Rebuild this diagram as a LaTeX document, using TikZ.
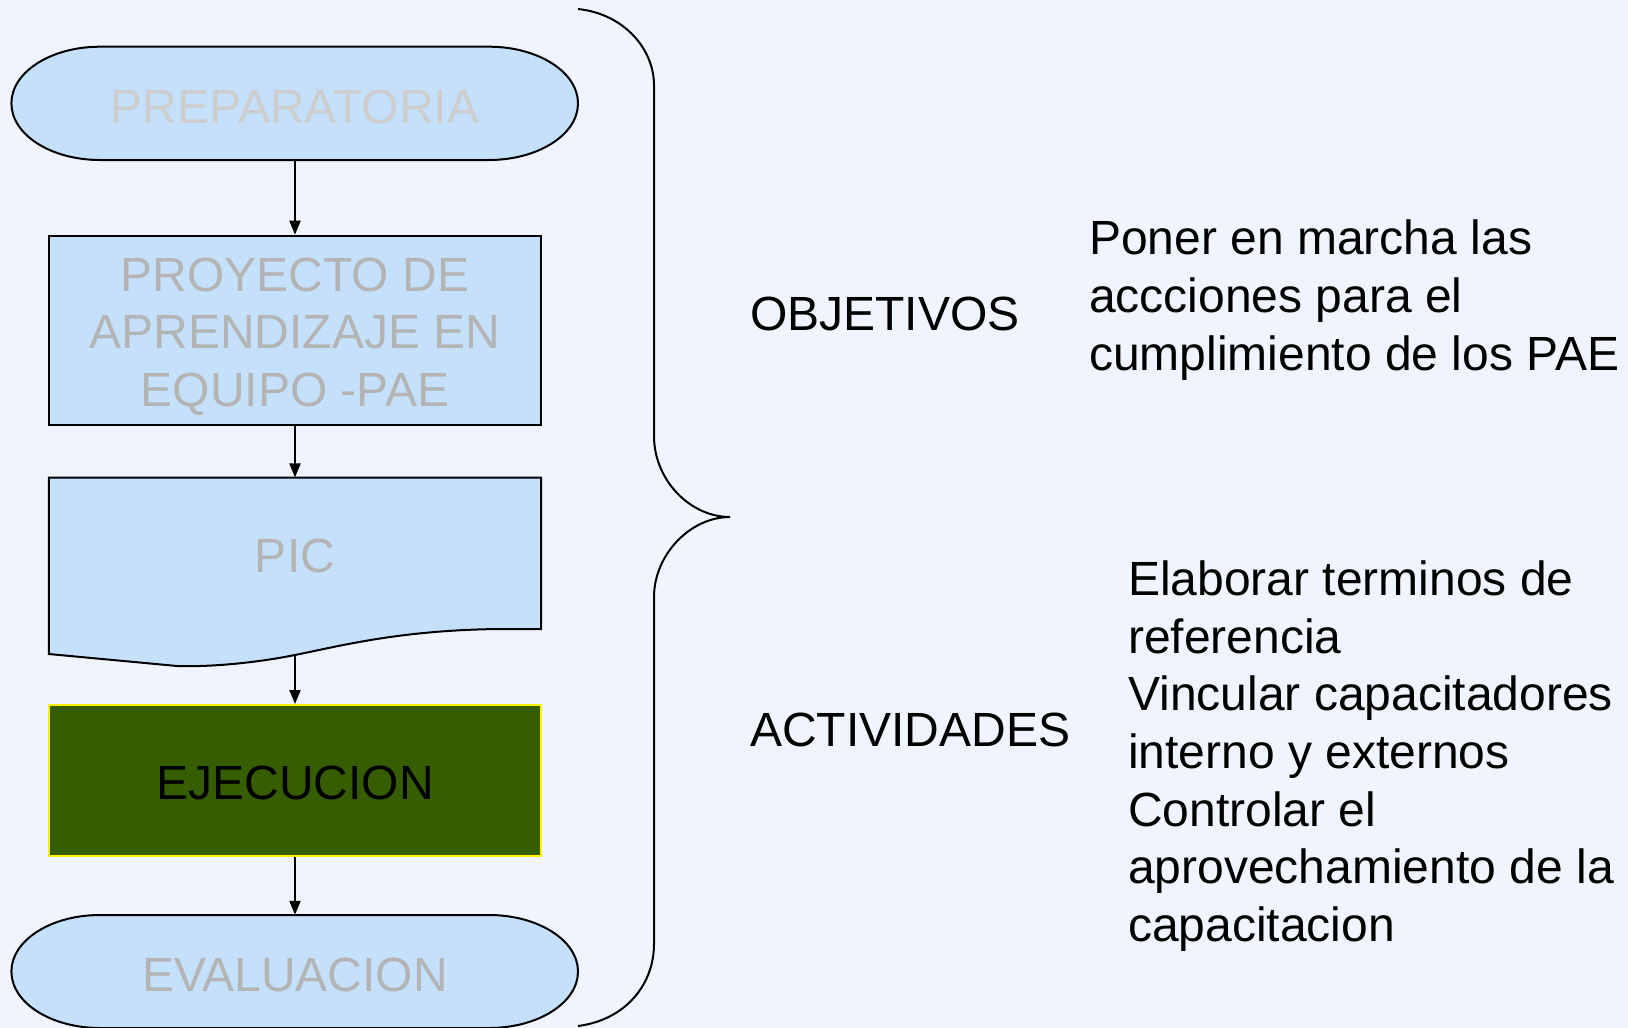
\documentclass[tikz,border=0pt]{standalone}
\usepackage{fontspec}
\setmainfont{Liberation Sans}
\usetikzlibrary{arrows.meta}
\definecolor{bgcol}{RGB}{239,244,254}
\definecolor{boxblue}{RGB}{197,224,251}
\definecolor{darkgreen}{RGB}{54,94,0}
\definecolor{paletxt}{RGB}{205,205,205}
\definecolor{greytxt}{RGB}{180,180,180}
\begin{document}
\begin{tikzpicture}[x=1pt,y=-1pt,
  big/.style={font=\fontsize{48}{57.6}\selectfont, inner sep=0pt},
  outline/.style={draw=black, line width=2pt},
  termnode/.style={big, minimum width=566.6pt, minimum height=113.3pt, text=paletxt},
  procbox/.style={outline, fill=boxblue, minimum width=492.2pt, inner sep=0pt},
  arr/.style={line width=2pt, -{Triangle[length=14pt,width=11pt]}},
  lbl/.style={big, text=black, anchor=west}]
\useasboundingbox (0,0) rectangle (1628,1028);
\fill[bgcol] (0,0) rectangle (1628,1028);

% terminal shapes
\filldraw[outline, fill=boxblue] (100,46.7) -- (489,46.7) .. controls (538,46.7) and (578,72) .. (578,103.35) .. controls (578,134.7) and (538,160) .. (489,160) -- (100,160) .. controls (51,160) and (11.4,134.7) .. (11.4,103.35) .. controls (11.4,72) and (51,46.7) .. (100,46.7) -- cycle;
\filldraw[outline, fill=boxblue] (100,915) -- (489,915) .. controls (538,915) and (578,940.3) .. (578,971.5) .. controls (578,1002.8) and (538,1028) .. (489,1028) -- (100,1028) .. controls (51,1028) and (11.4,1002.8) .. (11.4,971.5) .. controls (11.4,940.3) and (51,915) .. (100,915) -- cycle;

% document shape (PIC)
\filldraw[outline, fill=boxblue] (48.8,477.6) -- (541,477.6) -- (541,629) -- (500,629) .. controls (400,630) and (340,646) .. (295,655) .. controls (250,664) and (205,667) .. (177,666) -- (48.8,654) -- cycle;

% nodes
\node[termnode] (prep) at (295,103.35) {};
\node[big, text=paletxt] (preplbl) at (295,106.5) {PREPARATORIA};
\node[procbox, minimum height=189pt] (proy) at (295,330.2) {};
\node[big, align=center, text=greytxt] (proylbl) at (295,336.5) {PROYECTO DE\\APRENDIZAJE EN\\EQUIPO -PAE};
\node[big, minimum width=492.2pt, minimum height=155.8pt, text=greytxt] (pic) at (295,555.5) {PIC};
\coordinate (picbot) at (295,655);
\node[draw=yellow, line width=2pt, fill=darkgreen, minimum width=492.2pt, minimum height=150.6pt, inner sep=0pt] (ejec) at (295,780.3) {};
\node[big, text=black] (ejeclbl) at (295,782.5) {EJECUCION};
\node[termnode, minimum height=113pt] (eval) at (295,971.5) {};
\node[big, text=greytxt] (evallbl) at (295,974.5) {EVALUACION};

% connectors
\draw[arr] (prep.south) -- (proy.north);
\draw[arr] (proy.south) -- (pic.north);
\draw[arr] (picbot) -- (ejec.north);
\draw[arr] (ejec.south) -- (eval.north);

% brace
\draw[line width=2pt] (578,9) .. controls (625,14) and (654,50) .. (654,85) -- (654,436) .. controls (654,480) and (690,517) .. (730,517) .. controls (690,517) and (654,555) .. (654,597) -- (654,944) .. controls (654,985) and (625,1020) .. (578,1026);

% right side texts
\node[lbl] (obj) at (750,313.6) {OBJETIVOS};
\node[lbl, align=left] (objtxt) at (1089,300) {Poner en marcha las\\accciones para el\\cumplimiento de los PAE};
\node[lbl] (act) at (750,730) {ACTIVIDADES};
\node[lbl, align=left] (acttxt) at (1128,756) {Elaborar terminos de\\referencia\\Vincular capacitadores\\interno y externos\\Controlar el\\aprovechamiento de la\\capacitacion};
\end{tikzpicture}
\end{document}
